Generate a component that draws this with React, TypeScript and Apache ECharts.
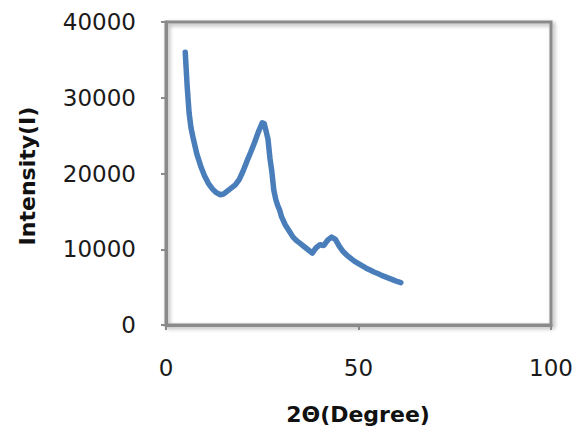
import React, { useEffect, useRef } from "react";
import * as echarts from "echarts";

const twoTheta: number[] = [
  5, 5.5, 6, 6.5, 7, 8, 9, 10, 11, 12, 13, 14, 15, 16, 17, 18, 19, 20, 21, 22, 23, 24, 25, 25.5,
  26, 26.5, 27, 27.5, 28, 28.5, 29, 29.5, 30, 31, 32, 33, 34, 35, 36, 37, 38, 39, 40, 41, 42, 43,
  44, 45, 46, 47, 48, 49, 50, 51, 52, 53, 54, 55, 56, 57, 58, 59, 60, 61,
];
const intensity: number[] = [
  36000, 31500, 28000, 26000, 24800, 22600, 21000, 19700, 18700, 18000, 17500, 17200, 17300, 17700,
  18100, 18500, 19200, 20300, 21600, 22800, 24100, 25500, 26700, 26600, 25600, 24500, 22000, 20200,
  17800, 16600, 15800, 15200, 14300, 13200, 12400, 11600, 11100, 10700, 10300, 9900, 9500, 10200,
  10600, 10500, 11200, 11600, 11300, 10400, 9700, 9200, 8800, 8400, 8100, 7800, 7500, 7250, 7000,
  6800, 6550, 6350, 6150, 5950, 5750, 5600,
];
const xTicks: number[] = [0, 50, 100];
const yTicks: number[] = [0, 10000, 20000, 30000, 40000];
const xTitle = "2Θ(Degree)";
const yTitle = "Intensity(I)";

export default function App() {
  const ref = useRef<HTMLDivElement>(null);
  useEffect(() => {
    if (!ref.current) return;
    const chart = echarts.init(ref.current, undefined, { renderer: "svg" });
    const axisGray = "#8a8a8a";
    const labelFont = { fontFamily: "DejaVu Sans", fontSize: 23, color: "#1a1a1a" };
    chart.setOption({
      animation: false,
      backgroundColor: "#ffffff",
      grid: {
        left: 166,
        right: 34,
        top: 22,
        bottom: 111,
        show: true,
        borderColor: axisGray,
        borderWidth: 3,
        backgroundColor: "transparent",
        shadowColor: "rgba(0,0,0,0.35)",
        shadowBlur: 4,
        shadowOffsetX: 2,
        shadowOffsetY: 2,
      },
      xAxis: {
        type: "value",
        min: xTicks[0],
        max: xTicks[xTicks.length - 1],
        interval: xTicks[1] - xTicks[0],
        splitLine: { show: false },
        axisLine: { show: true, lineStyle: { color: axisGray, width: 3 } },
        axisTick: { show: true, inside: false, length: 5, lineStyle: { color: axisGray, width: 2 } },
        axisLabel: { ...labelFont, margin: 31, formatter: (v: number) => String(v) },
      },
      yAxis: {
        type: "value",
        min: yTicks[0],
        max: yTicks[yTicks.length - 1],
        interval: yTicks[1] - yTicks[0],
        splitLine: { show: false },
        axisLine: { show: true, lineStyle: { color: axisGray, width: 3 } },
        axisTick: { show: true, inside: false, length: 5, lineStyle: { color: axisGray, width: 2 } },
        axisLabel: { ...labelFont, margin: 30, formatter: (v: number) => String(v) },
      },
      graphic: [
        {
          type: "text",
          x: 358,
          y: 414,
          style: {
            text: xTitle,
            fontFamily: "DejaVu Sans",
            fontWeight: "bold",
            fontSize: 22,
            fill: "#111",
            textAlign: "center",
            textVerticalAlign: "middle",
          },
        },
        {
          type: "text",
          x: 27,
          y: 176,
          rotation: Math.PI / 2,
          style: {
            text: yTitle,
            fontFamily: "DejaVu Sans",
            fontWeight: "bold",
            fontSize: 22,
            fill: "#111",
            textAlign: "center",
            textVerticalAlign: "middle",
          },
        },
      ],
      series: [
        {
          type: "line",
          data: twoTheta.map((x, i) => [x, intensity[i]]),
          showSymbol: false,
          smooth: false,
          lineStyle: { color: "#4a7ebb", width: 5.5, cap: "round", join: "round" },
        },
      ],
    });
    return () => chart.dispose();
  }, []);
  return (
    <div
      ref={ref}
      style={{ position: "absolute", left: 0, top: 0, width: 585, height: 436 }}
    />
  );
}
